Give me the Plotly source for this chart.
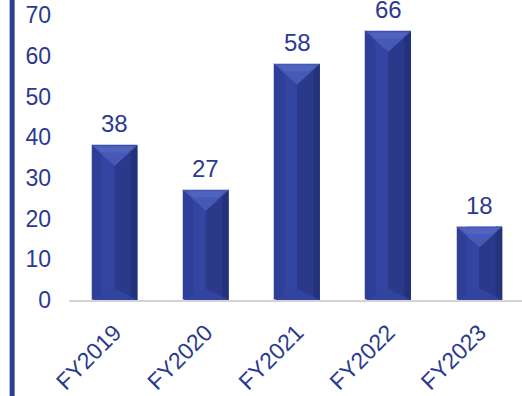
import plotly.graph_objects as go

# Annual counts by fiscal year
categories = ["FY2019", "FY2020", "FY2021", "FY2022", "FY2023"]
values = [38, 27, 58, 66, 18]
y_ticks = [0, 10, 20, 30, 40, 50, 60, 70]

TEXT = "#2b3a8f"
BASE = "#2f3f98"
FONT = "Liberation Sans, Arial, sans-serif"

half = 0.25          # half bar width in category units
bevel = 5.1          # depth of the top bevel in value units

x_idx = list(range(len(categories)))

fig = go.Figure()

# main bar body
fig.add_trace(go.Bar(
    x=x_idx, y=values, width=2 * half,
    marker=dict(color=BASE, line=dict(color="#c9cfe8", width=1)),
    hoverinfo="skip", showlegend=False,
))

def poly(xs, ys, color):
    fig.add_trace(go.Scatter(
        x=xs, y=ys, mode="lines", fill="toself", fillcolor=color,
        line=dict(width=0), hoverinfo="skip", showlegend=False,
    ))

for i, v in zip(x_idx, values):
    # lighter band left of centre
    poly([i - half * 0.55, i, i, i - half * 0.55],
         [0, 0, v, v], "#3345a1")
    # darker right half
    poly([i, i + half, i + half, i], [0, 0, v, v], "#2a3989")
    # darkest right edge
    poly([i + half * 0.72, i + half, i + half, i + half * 0.72],
         [0, 0, v, v], "#243279")
    # faint bottom bevel
    poly([i - half, i, i + half], [0, bevel * 0.55, 0], "#3243a0")
    # light top bevel
    poly([i - half, i + half, i], [v, v, v - bevel], "#4759b6")
    poly([i - half * 0.85, i + half * 0.85, i + half * 0.55, i - half * 0.55],
         [v - 0.35, v - 0.35, v - bevel * 0.35, v - bevel * 0.35], "#5063bf")

# value labels above the bars
for i, v in zip(x_idx, values):
    fig.add_annotation(
        x=i, y=v, text=str(v), showarrow=False, yanchor="bottom", yshift=6,
        font=dict(family=FONT, size=24, color=TEXT),
    )

# vertical accent bar at the left edge
fig.add_shape(type="line", xref="paper", yref="paper",
              x0=-0.1255, x1=-0.1255, y0=-0.5, y1=1.1,
              line=dict(color="#2e3f96", width=5))

fig.update_layout(
    width=522, height=396,
    margin=dict(l=69, r=0, t=0, b=96),
    paper_bgcolor="white", plot_bgcolor="white",
    bargap=0,
    xaxis=dict(
        range=[-0.5, 4.467], tickmode="array", tickvals=x_idx,
        ticktext=categories, tickangle=-45, showgrid=False, zeroline=False,
        showline=True, linecolor="#d3d3d3", linewidth=2,
        tickfont=dict(family=FONT, size=23, color=TEXT), ticks="",
        ticklabelstandoff=8,
    ),
    yaxis=dict(
        range=[0, 73.7], tickmode="array", tickvals=y_ticks,
        showgrid=False, zeroline=False, showline=False, ticks="",
        ticklabelstandoff=17,
        tickfont=dict(family=FONT, size=23, color=TEXT),
    ),
)

fig.write_html("out.html")
